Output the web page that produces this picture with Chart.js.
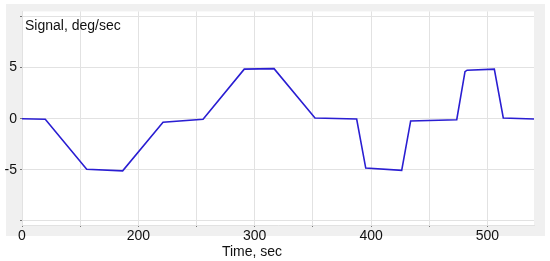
<!DOCTYPE html>
<html><head><meta charset="utf-8">
<script src="https://cdn.jsdelivr.net/npm/chart.js@4.4.1/dist/chart.umd.min.js"></script>
<style>html,body{margin:0;padding:0;background:#fff;}#wrap{width:550px;height:261px;}</style>
</head><body><div id="wrap"><canvas id="c" width="550" height="261"></canvas></div>
<script>
const timeSec = [100,120,155.6,186.5,221.2,255.6,291,316.6,351.8,387.6,395.4,426.3,434,473.6,480.7,482.5,505.9,513.6,540];
const signal  = [0,-0.05,-4.95,-5.1,-0.35,-0.05,4.85,4.9,0.07,-0.03,-4.83,-5.05,-0.22,-0.1,4.6,4.75,4.85,0.07,-0.03];
const xTickValues = [100,150,200,250,300,350,400,450,500];
const xTickLabels = ["0","","200","","300","","400","","500"];
const yTickValues = [-10,-5,0,5,10];
const yTickLabels = ["","-5","0","5",""];
const yTitle = "Signal, deg/sec";
const xTitle = "Time, sec";

const FONT = "'Liberation Sans', Arial, sans-serif";

const bgPlugin = {
  id: 'bg',
  beforeDraw(chart) {
    const ctx = chart.ctx, a = chart.chartArea;
    ctx.save();
    ctx.fillStyle = '#ffffff';
    ctx.fillRect(0, 0, chart.width, chart.height);
    ctx.fillStyle = '#f0f0f0';
    ctx.fillRect(6, 4, 539, 232);
    ctx.fillStyle = '#ffffff';
    ctx.fillRect(a.left, a.top, a.right - a.left, a.bottom - a.top);
    ctx.restore();
  },
  afterDraw(chart) {
    const ctx = chart.ctx, a = chart.chartArea;
    ctx.save();
    ctx.fillStyle = '#111';
    ctx.font = '14px ' + FONT;
    ctx.textBaseline = 'middle';
    ctx.textAlign = 'left';
    ctx.fillText(yTitle, a.left + 3, 26);
    ctx.textAlign = 'center';
    ctx.fillText(xTitle, 252, 252);
    ctx.restore();
  }
};

new Chart(document.getElementById('c'), {
  type: 'line',
  data: {
    datasets: [{
      data: timeSec.map((t, i) => ({x: t, y: signal[i]})),
      borderColor: '#2a1ed2',
      borderWidth: 1.6,
      pointRadius: 0,
      tension: 0,
      fill: false
    }]
  },
  options: {
    responsive: false,
    animation: false,
    devicePixelRatio: 1,
    layout: { padding: { top: 10, right: 16, left: 0, bottom: 0 } },
    plugins: { legend: { display: false }, tooltip: { enabled: false } },
    scales: {
      x: {
        type: 'linear', min: 100, max: 540,
        afterBuildTicks(s) { s.ticks = xTickValues.map(v => ({value: v})); },
        afterFit(s) { s.height = 36; },
        grid: { color: '#e2e2e2', lineWidth: 1, tickLength: 2, tickColor: '#777' },
        border: { color: '#e2e2e2' },
        ticks: {
          padding: 1, maxRotation: 0, autoSkip: false,
          color: '#111', font: { family: FONT, size: 14 },
          callback: (v) => { const i = xTickValues.indexOf(v); return i >= 0 ? xTickLabels[i] : ''; }
        }
      },
      y: {
        type: 'linear', min: -10.4, max: 10.5,
        afterBuildTicks(s) { s.ticks = yTickValues.map(v => ({value: v})); },
        afterFit(s) { s.width = 22; },
        grid: { color: '#e2e2e2', lineWidth: 1, tickLength: 2, tickColor: '#777' },
        border: { color: '#e2e2e2' },
        ticks: {
          padding: 3, autoSkip: false,
          color: '#111', font: { family: FONT, size: 14 },
          callback: (v) => { const i = yTickValues.indexOf(v); return i >= 0 ? yTickLabels[i] : ''; }
        }
      }
    }
  },
  plugins: [bgPlugin]
});
</script>
</body></html>
